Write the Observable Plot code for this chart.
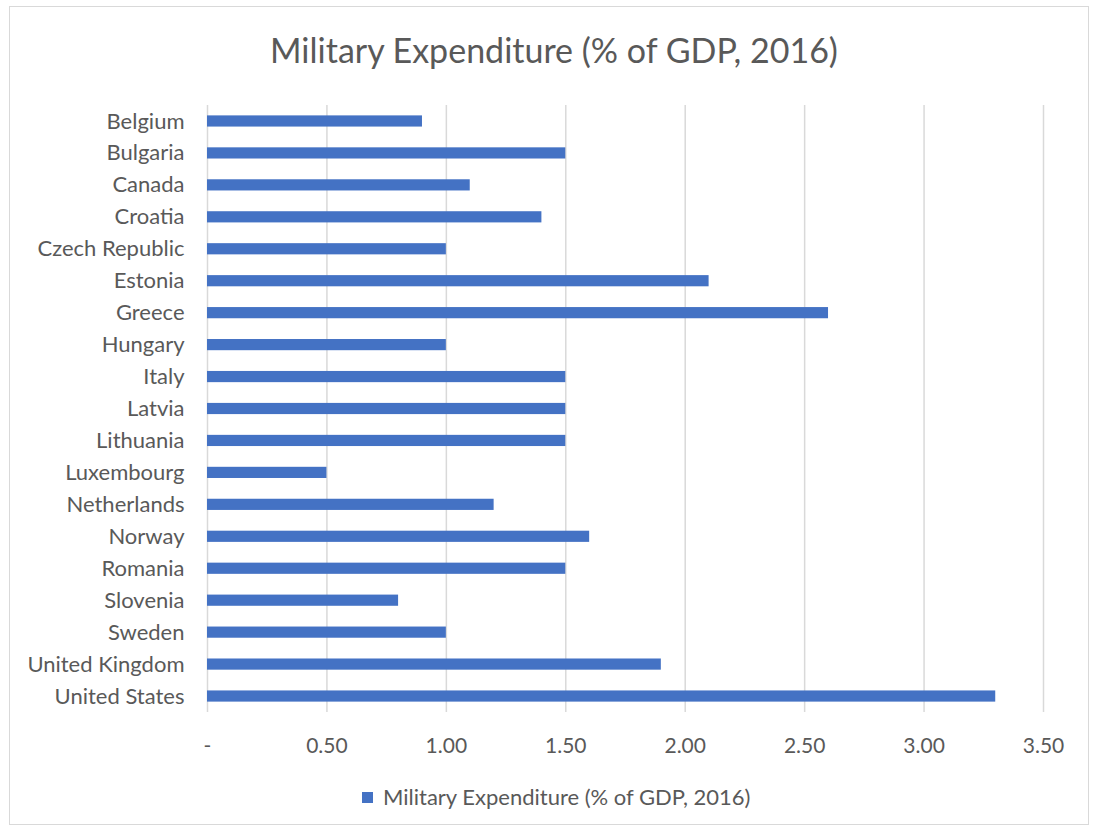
<!DOCTYPE html>
<html>
<head>
<meta charset="utf-8">
<script src="https://cdn.jsdelivr.net/npm/d3@7"></script>
<script src="https://cdn.jsdelivr.net/npm/@observablehq/plot@0.6"></script>
<style>
  html, body { margin: 0; padding: 0; background: #fff; }
  body { width: 1093px; height: 830px; position: relative; overflow: hidden; font-family: Lato, "Open Sans", sans-serif; }
  #frame { position: absolute; left: 9px; top: 6px; width: 1080px; height: 819px; border: 1px solid #d9d9d9; box-sizing: border-box; }
  #title { position: absolute; left: 0; width: 1108px; top: 28px; text-align: center; font-size: 34px; line-height: 44px; color: #595959; }
  #chart { position: absolute; left: 0; top: 90px; }
  #legend { position: absolute; left: 362px; top: 784px; font-size: 22px; line-height: 26px; color: #595959; display: flex; align-items: center; }
  #legend .sw { width: 11px; height: 11px; background: #4472C4; margin-right: 10px; }
</style>
</head>
<body>
<div id="frame"></div>
<div id="title">Military Expenditure (% of GDP, 2016)</div>
<div id="chart"></div>
<div id="legend"><span class="sw"></span><span>Military Expenditure (% of GDP, 2016)</span></div>
<script>
const countries = ["Belgium","Bulgaria","Canada","Croatia","Czech Republic","Estonia","Greece","Hungary","Italy","Latvia","Lithuania","Luxembourg","Netherlands","Norway","Romania","Slovenia","Sweden","United Kingdom","United States"];
const values = [0.9,1.5,1.1,1.4,1.0,2.1,2.6,1.0,1.5,1.5,1.5,0.5,1.2,1.6,1.5,0.8,1.0,1.9,3.3];
const xTicks = [0,0.5,1,1.5,2,2.5,3,3.5];
const data = countries.map((c, i) => ({country: c, value: values[i]}));
const fmt = d => d === 0 ? "-" : d.toFixed(2);

const chart = Plot.plot({
  width: 1093,
  height: 680,
  marginLeft: 207,
  marginRight: 50,
  marginTop: 15,
  marginBottom: 58,
  style: {fontFamily: "Lato, 'Open Sans', sans-serif", fontSize: "22px", color: "#595959", background: "transparent"},
  x: {domain: [0, 3.5], ticks: xTicks, tickFormat: fmt, label: null},
  y: {domain: countries, paddingInner: 0.65, paddingOuter: 0.325, round: false, label: null},
  marks: [
    Plot.gridX(xTicks, {stroke: "#d9d9d9", strokeOpacity: 1, strokeWidth: 1.5}),
    Plot.barX(data, {x: "value", y: "country", fill: "#4472C4"}),
    Plot.axisX({ticks: xTicks, tickSize: 0, tickPadding: 26, tickFormat: fmt, label: null, fill: "#595959", fontSize: 21}),
    Plot.axisY({tickSize: 0, tickPadding: 23, label: null, fill: "#595959"})
  ]
});
document.getElementById("chart").appendChild(chart);
</script>
</body>
</html>
